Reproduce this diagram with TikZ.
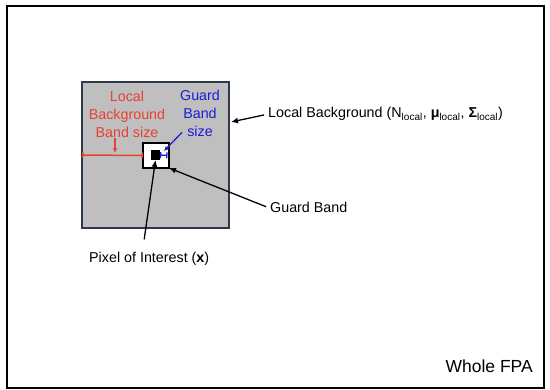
\documentclass[tikz,border=0pt]{standalone}
\usepackage{fontspec}
\setmainfont{Liberation Sans}
\setsansfont{Liberation Sans}
\usetikzlibrary{arrows.meta,positioning}
\definecolor{fpaslate}{HTML}{2E3A4A}
\definecolor{fpagray}{HTML}{BFBFBF}
\definecolor{fpared}{HTML}{E8412F}
\definecolor{fpablue}{HTML}{1C1CD8}
\tikzset{
  frame/.style={rectangle,draw=black,line width=2.2pt,inner sep=0pt,outer sep=0pt},
  region/.style={rectangle,draw=fpaslate,fill=fpagray,line width=1.4pt,inner sep=0pt,outer sep=0pt},
  guard/.style={rectangle,draw=black,fill=white,line width=1.7pt,inner sep=0pt,outer sep=0pt},
  pixel/.style={rectangle,fill=black,inner sep=0pt,outer sep=0pt},
  note/.style={font=\sffamily\fontsize{14.3}{18}\selectfont,text=black,inner sep=1pt},
  ptr/.style={-{Latex[length=7pt,width=6pt]},line width=1.3pt},
  redptr/.style={-{Latex[length=4.5pt,width=4.5pt]},draw=fpared,line width=1.1pt},
  blueptr/.style={-{Latex[length=4.5pt,width=4.5pt]},draw=fpablue,line width=1.3pt},
  reddim/.style={{Bar[width=6pt]}-{Bar[width=6pt]},draw=fpared,line width=1.5pt},
  bluedim/.style={{Bar[width=6pt]}-{Bar[width=6pt]},draw=fpablue,line width=1.3pt},
}
\begin{document}
\begin{tikzpicture}[x=1pt,y=-1pt,font=\sffamily]
  \useasboundingbox (0,0) rectangle (550,390);
  \node[frame,minimum width=537pt,minimum height=382pt] (fpa) at (275.5,197) {};
  \node[anchor=base east,font=\sffamily\fontsize{17.5}{20}\selectfont,inner sep=0pt] (fpalabel) at (533,373) {Whole FPA};
  \node[region,minimum width=147pt,minimum height=146pt] (bgbox) at (155.5,155) {};
  \node[guard,minimum width=26pt,minimum height=25pt] (guardbox) at (156,155.5) {};
  \node[pixel,minimum width=9pt,minimum height=10pt] (pix) at (155.5,155) {};
  \node[note,text=fpared,align=center] (rlabel) at (127,114) {Local\\Background\\Band size};
  \node[note,text=fpablue,align=center] (blabel) at (200,113) {Guard\\Band\\size};
  \coordinate (rtip) at (115,153);
  \coordinate (btip) at (164,151);
  \coordinate (bgtip) at (231,122);
  \draw[reddim] (bgbox.west) -- (guardbox.west);
  \draw[redptr] (rlabel.south -| rtip) -- (rtip);
  \draw[bluedim,shorten >=1.5pt] (pix.east) -- (guardbox.east);
  \draw[blueptr] ([xshift=-18pt,yshift=5pt]blabel.south) -- (btip);
  \node[note,anchor=base west] (bglabel) at (267,118) {Local Background (N\textsubscript{local}, \textbf{μ}\textsubscript{local}, \textbf{Σ}\textsubscript{local})};
  \node[note,anchor=base west] (gblabel) at (269,213) {Guard Band};
  \node[note,anchor=base west] (poilabel) at (88,263) {Pixel of Interest (\textbf{x})};
  \draw[ptr,shorten <=3pt] (bglabel.west) -- (bgtip);
  \draw[ptr,shorten <=3pt] (gblabel.west) -- (guardbox.south east);
  \draw[ptr] ([xshift=-5pt,yshift=12pt]poilabel.north) -- (pix.south);
\end{tikzpicture}
\end{document}
